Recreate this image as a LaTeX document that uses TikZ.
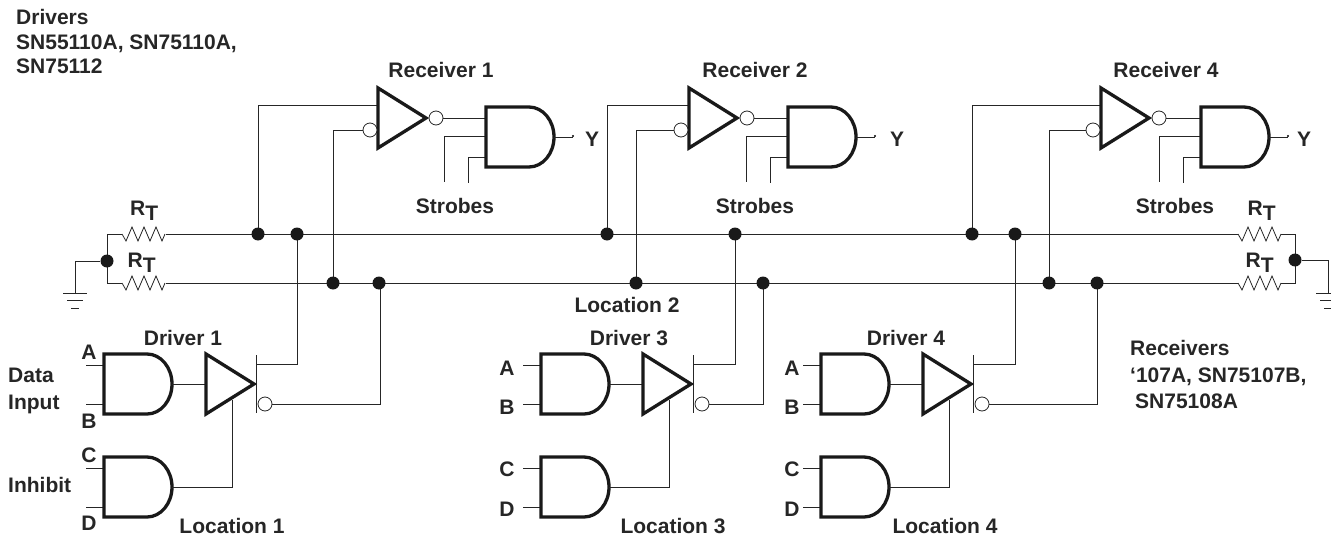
\documentclass[tikz,border=0pt]{standalone}
\usepackage{fontspec}
\setmainfont{Liberation Sans}
\tikzset{x=1pt,y=-1pt,
  wire/.style={line width=1pt,color=black!85},
  gateline/.style={line width=3.3pt,color=black!90,line join=miter},
  dotn/.style={circle,fill=black!90,draw=none,inner sep=0pt,minimum size=13pt},
  bub/.style={circle,draw=black!85,fill=white,line width=0.8pt,inner sep=0pt,minimum size=14pt},
  lbl/.style={inner sep=0pt,font=\fontsize{21}{25}\selectfont\bfseries,text=black!85},
  lblL/.style={lbl,anchor=base west},
}
\newcommand{\andgate}[3]{% left x, top y, name
  \draw[gateline] (#1+43,#2) -- (#1,#2) -- (#1,#2+60) -- (#1+43,#2+60)
    arc[start angle=90,end angle=-90,x radius=25,y radius=30] -- cycle;
  \coordinate (#3o) at (#1+68,#2+30);
}
\newcommand{\tri}[2]{% left x, centre y
  \draw[gateline] (#1,#2-30) -- (#1+48,#2) -- (#1,#2+30) -- cycle;
}
\newcommand{\resist}[2]{% left x, y
  \draw[wire,line width=0.8pt] (#1,#2) -- ++(4,7) -- ++(6,-14) -- ++(6,14) -- ++(6,-14) -- ++(6,14) -- ++(6,-14) -- ++(6,14) -- ++(3,-7);
}
\newcommand{\gnd}[2]{% x, y
  \draw[wire] (#1-12,#2) -- (#1+12,#2);
  \draw[wire] (#1-8,#2+7) -- (#1+8,#2+7);
  \draw[wire] (#1-4,#2+15) -- (#1+4,#2+15);
}
\newcommand{\receiver}[4]{% tri left, and left, dotT, dotB
  \coordinate (t#1) at (#3,234);
  \coordinate (b#1) at (#4,283);
  \draw[wire] (t#1) |- (#1,105);
  \draw[wire] (b#1) |- (#1-8,130);
  \tri{#1}{118}
  \node[bub] (bo#1) at (#1+58,118) {};
  \node[bub] (bi#1) at (#1-8,130) {};
  \draw[wire] (bo#1) -- (#2,118);
  \draw[wire] (#2,136) -| (#2-42,182);
  \draw[wire] (#2,157) -| (#2-18,183);
  \andgate{#2}{107}{g#1}
  \draw[wire] (g#1o) -- ++(19,0);
  \fill (#2+87,136) circle (1.2);
}
\newcommand{\driver}[3]{% gate left, dotT, dotB
  \draw[wire] (#1-18,365) -- (#1,365);
  \draw[wire] (#1-18,404) -- (#1,404);
  \draw[wire] (#1-18,468) -- (#1,468);
  \draw[wire] (#1-18,507) -- (#1,507);
  \andgate{#1}{354}{d#1}
  \andgate{#1}{457}{e#1}
  \draw[wire] (d#1o) -- (#1+102,384);
  \draw[wire] (e#1o) -| (#1+128,400);
  \tri{#1+102}{384}
  \draw[wire] (#1+152,355) -- (#1+152,413);
  \node[bub] (n#1) at (#1+161,404) {};
  \draw[wire] (#1+152,364) -| (#2,234);
  \draw[wire] (n#1) -| (#3,283);
}
\begin{document}
\begin{tikzpicture}
\useasboundingbox (0,0) rectangle (1331,535);
\clip (0,0) rectangle (1331,535);
% buses
\draw[wire] (166,234) -- (1238,234);
\draw[wire] (166,283) -- (1238,283);
\draw[wire] (122,234) -- (107,234) -- (107,283) -- (122,283);
\draw[wire] (1281,234) -- (1295,234) -- (1295,283) -- (1281,283);
\resist{122}{234}\resist{122}{283}
\resist{1238}{234}\resist{1238}{283}
\node[dotn] (gl) at (107,261) {};
\node[dotn] (gr) at (1295,260) {};
\draw[wire] (gl) -| (75,293);
\draw[wire] (gr) -| (1328,293);
\gnd{75}{293}\gnd{1328}{293}
\receiver{378}{486}{258}{333}
\receiver{689}{788}{607}{636}
\receiver{1101}{1201}{972}{1049}
\driver{104}{297}{380}
\driver{541}{735}{763}
\driver{821}{1015}{1097}
\foreach \p in {258,297,607,735,972,1015} \node[dotn] at (\p,234) {};
\foreach \p in {333,379,636,763,1049,1097} \node[dotn] at (\p,283) {};
% labels
\node[lblL] at (16,25) {Drivers};
\node[lblL] at (16,50) {SN55110A, SN75110A,};
\node[lblL] at (16,74) {SN75112};
\node[lbl] at (441,70) {Receiver 1};
\node[lbl] at (755,70) {Receiver 2};
\node[lbl] at (1166,70) {Receiver 4};
\node[lbl] at (592,139) {Y};
\node[lbl] at (897,139) {Y};
\node[lbl] at (1304,139) {Y};
\node[lbl] at (455,206) {Strobes};
\node[lbl] at (755,206) {Strobes};
\node[lbl] at (1175,206) {Strobes};
\node[lbl] at (627,305) {Location 2};
\node[lbl] at (183,338) {Driver 1};
\node[lbl] at (629,338) {Driver 3};
\node[lbl] at (906,338) {Driver 4};
\node[lbl] at (89,352) {A};
\node[lbl] at (89,421) {B};
\node[lbl] at (89,455) {C};
\node[lbl] at (89,523) {D};
\node[lblL] at (8,382) {Data};
\node[lblL] at (8,409) {Input};
\node[lblL] at (8,492) {Inhibit};
\node[lbl] at (232,526) {Location 1};
\node[lbl] at (507,368) {A};
\node[lbl] at (507,407) {B};
\node[lbl] at (507,469) {C};
\node[lbl] at (507,509) {D};
\node[lbl] at (673,526) {Location 3};
\node[lbl] at (792,368) {A};
\node[lbl] at (792,407) {B};
\node[lbl] at (792,469) {C};
\node[lbl] at (792,509) {D};
\node[lbl] at (945,526) {Location 4};
\node[lblL] at (1130,355) {Receivers};
\node[lblL] at (1130,382) {‘107A, SN75107B,};
\node[lblL] at (1135,408) {SN75108A};
% R_T
\foreach \a/\b in {130/215.5,127.5/267.5,1247.5/215.5,1245.5/267.5}
  \node[lbl,anchor=base west] at (\a,\b) {R\raisebox{-5pt}{T}};
\end{tikzpicture}
\end{document}
